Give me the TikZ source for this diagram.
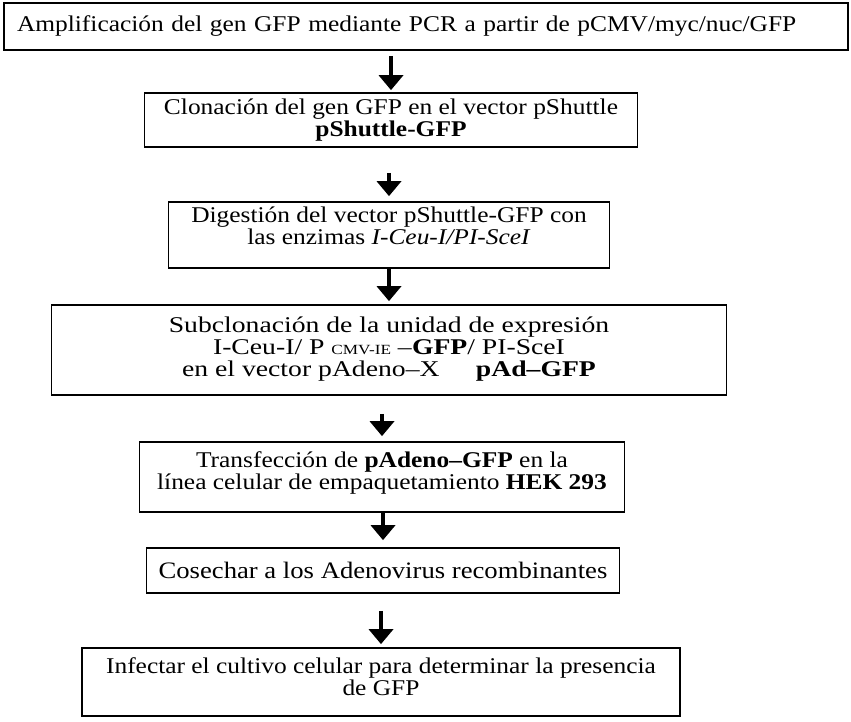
\documentclass[tikz,border=0pt]{standalone}
\usepackage{fontspec}
\setmainfont{Liberation Serif}[FakeStretch=1.13]
\usetikzlibrary{arrows.meta, positioning, calc}

\begin{document}
\begin{tikzpicture}[x=1pt, y=-1pt,
    caja/.style={draw, line width=1.7pt, align=center, inner sep=2pt,
      font=\fontsize{22.5}{22}\selectfont},
    flecha/.style={line width=4.5pt, -{Triangle[width=24pt, length=15pt]}}]
  \useasboundingbox (0,0) rectangle (851,722);

  % Pasos
  \node[caja, text width=818, align=left, inner xsep=13pt, minimum height=47]
    (amplif) at (426,26.5) {Amplificación del gen GFP mediante PCR a partir de pCMV/myc/nuc/GFP};
  \node[caja, minimum width=493, minimum height=54] (clon) at (391,120)
    {Clonación del gen GFP en el vector pShuttle\\ \textbf{pShuttle-GFP}};
  \node[caja, minimum width=441, minimum height=66] (digest) at (389,235)
    {Digestión del vector pShuttle-GFP con\\ las enzimas \textit{I-Ceu-I/PI-SceI}\\[-4pt]\mbox{}};
  \node[caja, minimum width=675, minimum height=90,
    font=\fontsize{22.5}{22}\selectfont\addfontfeatures{FakeStretch=1.23}]
    (subclon) at (389,350)
    {Subclonación de la unidad de expresión\\
     I-Ceu-I/ P {\fontsize{14}{14}\selectfont CMV-IE} --\textbf{GFP}/ PI-SceI\\
     en el vector pAdeno--X \quad\ \textbf{pAd--GFP}\\[-16pt]\mbox{}};
  \node[caja, minimum width=485, minimum height=70] (transf) at (382,477)
    {Transfección de \textbf{pAdeno--GFP} en la\\
     línea celular de empaquetamiento \textbf{HEK 293}\\[-10pt]\mbox{}};
  \node[caja, minimum width=473, minimum height=45, font=\fontsize{23.6}{22}\selectfont]
    (cosecha) at (383,570.5) {Cosechar a los Adenovirus recombinantes};
  \node[caja, minimum width=598, minimum height=68] (infect) at (381,682)
    {Infectar el cultivo celular para determinar la presencia\\ de GFP\\[-12pt]\mbox{}};

  % Flechas
  \draw[flecha, shorten <=5pt, shorten >=2pt] (clon.north |- amplif.south) -- (clon.north);
  \draw[flecha, shorten <=25pt, shorten >=5pt] (digest.north |- clon.south) -- (digest.north);
  \draw[flecha, shorten >=3pt] (subclon.north |- digest.south) -- (subclon.north);
  \draw[flecha, shorten <=18pt, shorten >=5pt] (transf.north |- subclon.south) -- (transf.north);
  \draw[flecha, shorten >=7pt] (cosecha.north |- transf.south) -- (cosecha.north);
  \draw[flecha, shorten <=17pt, shorten >=3pt] (infect.north |- cosecha.south) -- (infect.north);
\end{tikzpicture}
\end{document}
